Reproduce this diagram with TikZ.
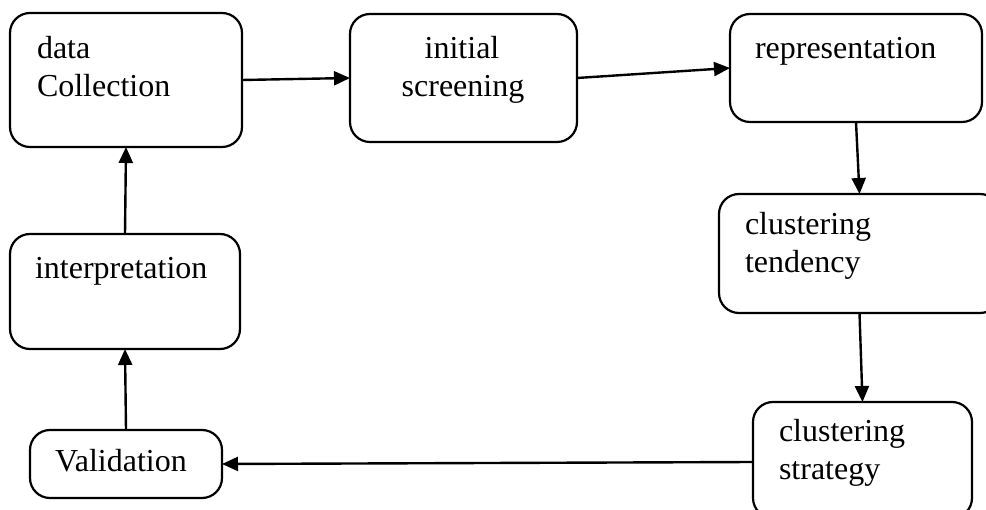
\documentclass[tikz,border=0pt]{standalone}
\usepackage{fontspec}
\setmainfont{Liberation Serif}
\usetikzlibrary{arrows.meta}

\tikzset{
  stage/.style={draw=black, line width=2.2pt, rounded corners=20pt,
    inner sep=0pt, outer sep=0pt, fill=white},
  txt/.style={inner sep=0pt, outer sep=0pt,
    font=\fontsize{32}{38}\selectfont},
  flow/.style={draw=black, line width=2.4pt,
    -{Triangle[length=16pt, width=14pt]}},
}

\begin{document}
\begin{tikzpicture}[x=1pt, y=-1pt]
  \useasboundingbox (0,0) rectangle (986,510);
  \clip (0,0) rectangle (986,510);
  \fill[white] (0,0) rectangle (986,510);

  % process stages (centre, size)
  \node[stage, minimum width=232pt, minimum height=134pt] (A) at (126,80) {};
  \node[stage, minimum width=227pt, minimum height=128pt] (B) at (463.5,78) {};
  \node[stage, minimum width=252pt, minimum height=108pt] (C) at (856,68) {};
  \node[stage, minimum width=281pt, minimum height=119pt] (D) at (859.5,253.5) {};
  \node[stage, minimum width=219pt, minimum height=116pt] (E) at (862.5,460) {};
  \node[stage, minimum width=192pt, minimum height=68pt]  (F) at (126,464) {};
  \node[stage, minimum width=230pt, minimum height=115pt] (G) at (125,291.5) {};

  % stage labels, one node per line
  \node[txt, anchor=base west] (A1) at (37,59) {data};
  \node[txt, anchor=base west] (A2) at (37,97) {Collection};
  \node[txt, anchor=base] (B1) at (462,59) {initial};
  \node[txt, anchor=base] (B2) at (463,97) {screening};
  \node[txt, anchor=base west] (C1) at (755,59) {representation};
  \node[txt, anchor=base west] (D1) at (745,235) {clustering};
  \node[txt, anchor=base west] (D2) at (745,273) {tendency};
  \node[txt, anchor=base west] (E1) at (779,442) {clustering};
  \node[txt, anchor=base west] (E2) at (779,480) {strategy};
  \node[txt, anchor=base] (F1) at (121,472) {Validation};
  \node[txt, anchor=base west] (G1) at (35,279) {interpretation};

  % flow between stages
  \draw[flow] (A.east) -- (B.west);
  \draw[flow] (B.east) -- (C.west);
  \draw[flow] (C.south) -- (D.north);
  \draw[flow] (D.south) -- (E.north);
  \draw[flow] ([yshift=-2pt]E.west) -- (F.east);
  \draw[flow] (F.north) -- (G.south);
  \draw[flow] (G.north) -- (A.south);
\end{tikzpicture}
\end{document}
